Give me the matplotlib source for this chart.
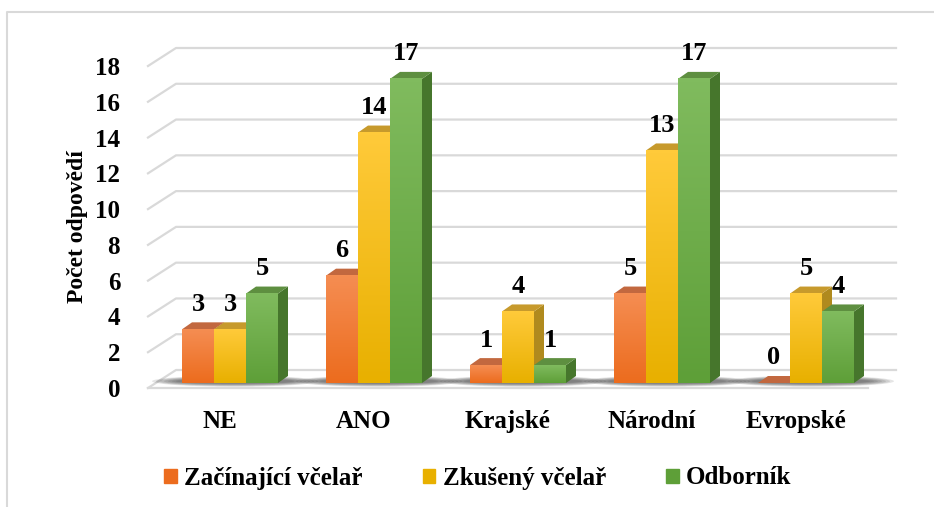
import numpy as np
import matplotlib
matplotlib.use('Agg')
import matplotlib.pyplot as plt
from matplotlib.patches import Polygon, Patch, Ellipse
from matplotlib.colors import LinearSegmentedColormap
from matplotlib.lines import Line2D

# data
kategorie = ['NE', 'ANO', 'Krajské', 'Národní', 'Evropské']
zacinajici = [3, 6, 1, 5, 0]
zkuseny = [3, 14, 4, 13, 5]
odbornik = [5, 17, 1, 17, 4]
serie = ['Začínající včelař', 'Zkušený včelař', 'Odborník']
yticks = list(range(0, 19, 2))

# colours: (bottom of front, top of front, top face, side face)
barvy = [
    ('#EC6C1E', '#F58D52', '#C2683F', '#B85A28'),
    ('#E8B000', '#FFCA3A', '#C79A2C', '#B08A1E'),
    ('#5E9F38', '#80BB5E', '#5E8F40', '#46762C'),
]

plt.rcParams['font.family'] = ['Liberation Serif', 'DejaVu Serif']
plt.rcParams['font.weight'] = 'bold'

W, H = 934, 507
fig = plt.figure(figsize=(W / 100, H / 100), dpi=100)
# front plane of the 3d box in pixels
x0px, x1px = 148, 868
y0px, y18px = 388, 66
ax = fig.add_axes([x0px / W, 1 - y0px / H, (x1px - x0px) / W, (y0px - y18px) / H])
ax.set_xlim(-0.5, 4.5)
ax.set_ylim(0, 18)
for s in ax.spines.values():
    s.set_visible(False)

pxx = (x1px - x0px) / 5.0      # pixels per category
pxy = (y0px - y18px) / 18.0    # pixels per unit

# back wall / floor offsets
wdx, wdy = 28 / pxx, 18 / pxy
grid_c = '#D9D9D9'
for v in yticks:
    ax.plot([-0.5, -0.5 + wdx, 4.5 + wdx], [v, v + wdy, v + wdy],
            color=grid_c, lw=1.6, clip_on=False, zorder=1)
ax.plot([-0.5, 4.5], [0, 0], color=grid_c, lw=1.6, clip_on=False, zorder=1)

# bars
bw = 32 / pxx
shift = 10 / pxx
lift = 5 / pxy
ddx, ddy = 10 / pxx, 7 / pxy
x = np.arange(len(kategorie))

# shadows on the floor
for xi in x:
    cx = xi + shift + 0.5 * ddx
    for k in range(7):
        ax.add_patch(Ellipse((cx, lift + 0.1), 3 * bw + (70 - 8 * k) / pxx,
                             (11 - k) / pxy, color='#303030', alpha=0.12,
                             lw=0, zorder=2, clip_on=False))

for i, (vals, (cb, ct, ctop, cside)) in enumerate(zip([zacinajici, zkuseny, odbornik], barvy)):
    cmap = LinearSegmentedColormap.from_list('g%d' % i, [cb, ct])
    z = 3 + i
    for xi, v in zip(x, vals):
        left = xi + shift + (i - 1.5) * bw
        right = left + bw
        bot = lift
        top = lift + v
        ax.add_patch(Polygon([(right, bot), (right + ddx, bot + ddy),
                              (right + ddx, top + ddy), (right, top)],
                             closed=True, color=cside, lw=0, zorder=z, clip_on=False))
        ax.add_patch(Polygon([(left, top), (right, top), (right + ddx, top + ddy),
                              (left + ddx, top + ddy)],
                             closed=True, color=ctop, lw=0, zorder=z, clip_on=False))
        if v > 0:
            grad = np.linspace(0, 1, 64).reshape(-1, 1)
            ax.imshow(grad, extent=[left, right, bot, top], origin='lower',
                      aspect='auto', cmap=cmap, zorder=z, interpolation='bilinear')
        ax.annotate(str(v), (left + bw / 2, top), xytext=(0, 25),
                    textcoords='offset pixels', ha='center', va='center',
                    fontsize=19, fontweight='bold', zorder=10)

ax.set_xlim(-0.5, 4.5)
ax.set_ylim(0, 18)

ax.set_xticks(x)
ax.set_xticklabels(kategorie, fontsize=18, fontweight='bold')
ax.set_yticks(yticks)
ax.set_yticklabels([str(t) for t in yticks], fontsize=18, fontweight='bold')
ax.tick_params(axis='both', length=0)
ax.tick_params(axis='x', pad=16)
ax.tick_params(axis='y', pad=20)
ax.set_ylabel('Počet odpovědí', fontsize=17, fontweight='bold')
ax.yaxis.set_label_coords((88 - x0px) / (x1px - x0px), 0.5)

handles = [Patch(color=b[0]) for b in barvy]
fig.legend(handles, serie, loc='center', bbox_to_anchor=(478 / W, 1 - 478 / H),
           ncol=3, frameon=False, fontsize=18, handlelength=0.5, handleheight=0.5,
           handletextpad=0.3, columnspacing=2.4)

# outer frame (left and top edge)
fig.add_artist(Line2D([7 / W, 7 / W, 1], [0, 1 - 12 / H, 1 - 12 / H],
                      transform=fig.transFigure, color='#D9D9D9', lw=1.5))

fig.savefig('out.png', dpi=100)
